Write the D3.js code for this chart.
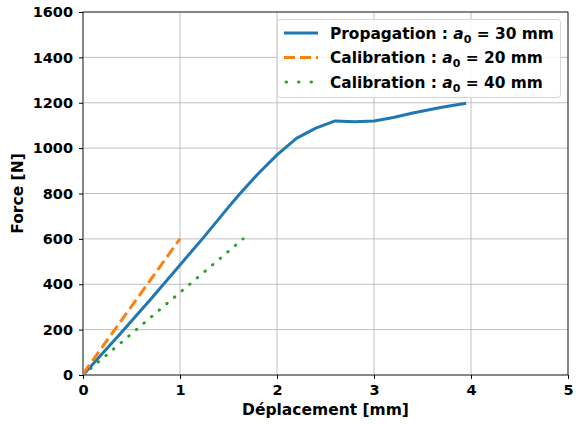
<!DOCTYPE html>
<html><head><meta charset="utf-8">
<script src="https://cdn.jsdelivr.net/npm/d3@7"></script>
<style>body{margin:0;background:#fff}svg{display:block}text{font-family:"DejaVu Sans",sans-serif;font-weight:bold}</style>
</head><body><svg id="c" width="578" height="425"></svg>
<script>
const xTicks=[0,1,2,3,4,5];
const yTicks=[0,200,400,600,800,1000,1200,1400,1600];
const propX=[0,0.4,0.7,1,1.25,1.5,1.62,1.8,2,2.2,2.4,2.6,2.8,3.0,3.2,3.4,3.7,3.95];
const propY=[0,190,335,485,610,740,800,885,970,1043,1088,1120,1116,1120,1135,1155,1180,1198];
const cal20X=[0,1.0];
const cal20Y=[5,600];
const cal40X=[0,1.65];
const cal40Y=[0,600];
const labels=["Propagation","Calibration","Calibration"];
const a0=["30","20","40"];
const colors=["#1f77b4","#ff7f0e","#2ca02c"];

const svg=d3.select("#c");
const L=83,R=568,T=12,B=375;
const x=d3.scaleLinear().domain([0,5]).range([L,R]);
const y=d3.scaleLinear().domain([0,1600]).range([B,T]);

const g=svg.append("g");
g.selectAll(".gx").data(xTicks).join("line").attr("x1",d=>x(d)).attr("x2",d=>x(d)).attr("y1",T).attr("y2",B).attr("stroke","#b0b0b0").attr("stroke-width",0.8);
g.selectAll(".gy").data(yTicks).join("line").attr("y1",d=>y(d)).attr("y2",d=>y(d)).attr("x1",L).attr("x2",R).attr("stroke","#b0b0b0").attr("stroke-width",0.8);

const xa=svg.append("g").attr("transform",`translate(0,${B})`).call(d3.axisBottom(x).tickValues(xTicks).tickFormat(d3.format("d")).tickSize(4).tickSizeOuter(0));
const ya=svg.append("g").attr("transform",`translate(${L},0)`).call(d3.axisLeft(y).tickValues(yTicks).tickFormat(d3.format("d")).tickSize(4).tickSizeOuter(0));
[xa,ya].forEach(a=>{a.selectAll("text").attr("font-size",14.5).attr("fill","#000").style("font-family","DejaVu Sans").style("font-weight","bold");a.select(".domain").remove();a.selectAll("line").attr("stroke","#000");});
xa.selectAll("text").attr("dy","0.9em");
ya.selectAll("text").attr("dx","-3px");
svg.append("rect").attr("x",L).attr("y",T).attr("width",R-L).attr("height",B-T).attr("fill","none").attr("stroke","#000").attr("stroke-width",0.8);

const line=d3.line().x(d=>x(d[0])).y(d=>y(d[1]));
svg.append("clipPath").attr("id","cp").append("rect").attr("x",L).attr("y",T).attr("width",R-L).attr("height",B-T);
const pg=svg.append("g").attr("clip-path","url(#cp)");
pg.append("path").datum(cal40X.map((v,i)=>[v,cal40Y[i]])).attr("d",line).attr("fill","none").attr("stroke",colors[2]).attr("stroke-width",3).attr("stroke-dasharray","0.5,9.5").attr("stroke-linecap","round");
pg.append("path").datum(propX.map((v,i)=>[v,propY[i]])).attr("d",line).attr("fill","none").attr("stroke",colors[0]).attr("stroke-width",3).attr("stroke-linejoin","round");
pg.append("path").datum(cal20X.map((v,i)=>[v,cal20Y[i]])).attr("d",line).attr("fill","none").attr("stroke",colors[1]).attr("stroke-width",3).attr("stroke-dasharray","11,5");

svg.append("text").attr("x",(L+R)/2).attr("y",415).attr("text-anchor","middle").attr("font-size",15.5).text("Déplacement [mm]");
svg.append("text").attr("transform",`translate(23,${(T+B)/2}) rotate(-90)`).attr("text-anchor","middle").attr("font-size",15.5).text("Force [N]");

// legend
const lg=svg.append("g");
lg.append("rect").attr("x",277.5).attr("y",19.5).attr("width",283).attr("height",78).attr("rx",3).attr("fill","#fff").attr("fill-opacity",0.85).attr("stroke","#d6d6d6");
const dashes=[null,"11,5","0.5,12"];
labels.forEach((lab,i)=>{
  const yy=33+i*24.5;
  lg.append("line").attr("x1",i==2?286:284).attr("x2",318).attr("y1",yy).attr("y2",yy).attr("stroke",colors[i]).attr("stroke-width",3).attr("stroke-dasharray",dashes[i]).attr("stroke-linecap",i==2?"round":"butt");
  const t=lg.append("text").attr("x",330).attr("y",yy+5.5).attr("font-size",15.4);
  t.append("tspan").text(lab+" : ");
  t.append("tspan").attr("font-style","italic").text("a");
  t.append("tspan").attr("font-size",11).attr("dy",4).text("0");
  t.append("tspan").attr("dy",-4).text(" = "+a0[i]+" mm");
});
</script></body></html>
